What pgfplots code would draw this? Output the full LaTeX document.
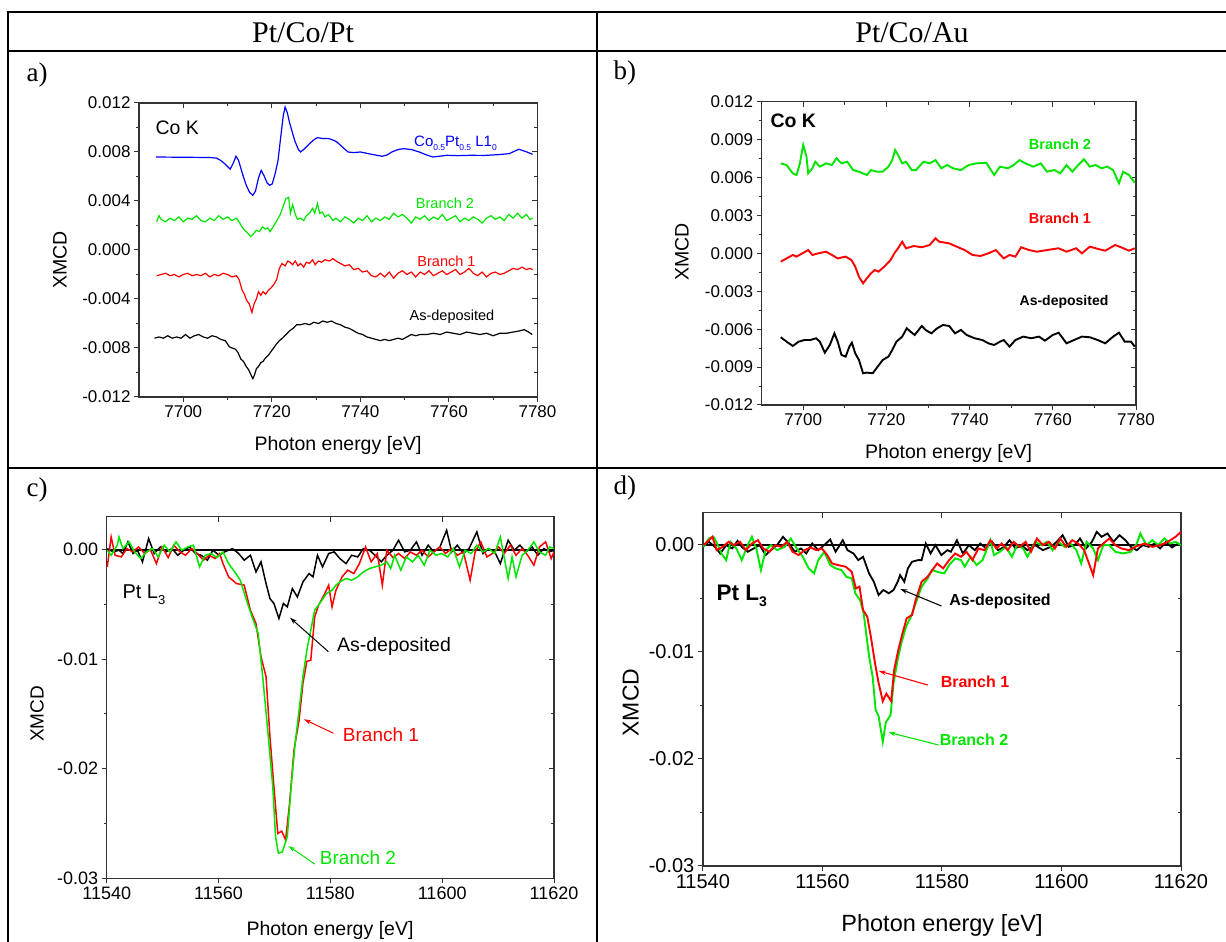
\documentclass[border=0pt]{standalone}
\usepackage{fontspec}
\setmainfont{Liberation Sans}
\newfontfamily\serif{Liberation Serif}
\usepackage{pgfplots}
\pgfplotsset{compat=1.18}
\usetikzlibrary{arrows.meta}

\definecolor{cgreen}{RGB}{0,230,0}
\definecolor{cred}{RGB}{255,0,0}
\definecolor{cblue}{RGB}{0,0,255}

\newcommand\fs[1]{\fontsize{#1}{#1}\selectfont}
\newcommand\lowsub[1]{\raisebox{-0.5ex}{\fs{8.5}#1}}

\pgfplotsset{
  base/.style={scale only axis, anchor=south west, clip=true,
    axis line style={line width=1.2pt, black!80},
    every tick/.style={line width=1pt, black!80},
    major tick length=5pt, minor tick length=3pt,
    scaled ticks=false,
    /pgf/number format/1000 sep={},
    /pgf/number format/assume math mode=true,
    no markers},
  front/.style={base, tick align=outside, xtick pos=left, ytick pos=left},
  back/.style={base, tick align=inside, xtick pos=right, ytick pos=right,
    xticklabels={,,}, yticklabels={,,}, axis line style={draw=none}},
  cok/.style={xmin=7690, xmax=7780, ymin=-12, ymax=12,
    xtick={7700,7720,...,7780}, minor x tick num=1, minor y tick num=1},
  ptl/.style={xmin=11540, xmax=11620, ymin=-30, ymax=3,
    xtick={11540,11560,...,11620}, minor x tick num=1,
    ytick={-30,-20,-10,0}, minor y tick num=1},
  pa/.style={at={(139pt,545pt)}, width=398.5pt, height=294pt, cok,
    ytick={-12,-8,...,12}},
  pb/.style={at={(761.6pt,537pt)}, width=374.4pt, height=303.3pt, cok,
    ytick={-12,-9,...,12}},
  pc/.style={at={(106.7pt,63.7pt)}, width=447.3pt, height=361.6pt, ptl},
  pd/.style={at={(702.9pt,76pt)}, width=478.1pt, height=353.3pt, ptl},
}

\begin{document}
\begin{tikzpicture}[x=1pt,y=1pt]
\path[use as bounding box, fill=white] (0,0) rectangle (1226,942);

% table frame
\draw[line width=2pt] (7,930) -- (1226,930);
\draw[line width=2pt] (7,891) -- (1226,891);
\draw[line width=2pt] (7,474) -- (1226,474);
\draw[line width=2pt] (7.5,930) -- (7.5,0);
\draw[line width=2pt] (597,930) -- (597,0);
\node[font=\serif\fs{30}] at (303,909) {Pt/Co/Pt};
\node[font=\serif\fs{30}] at (912,909) {Pt/Co/Au};
\node[font=\serif\fs{27}, anchor=west] at (23,867) {a)};
\node[font=\serif\fs{27}, anchor=west] at (610,869) {b)};
\node[font=\serif\fs{27}, anchor=west] at (23,452) {c)};
\node[font=\serif\fs{27}, anchor=west] at (610,454) {d)};

% ---------------- a) Pt/Co/Pt, Co K
\begin{axis}[back, pa]
\addplot[draw=none] coordinates {(7700,0)};
\end{axis}
\begin{axis}[front, pa, tick label style={font=\fs{17}},
  yticklabels={-0.012,-0.008,-0.004,0.000,0.004,0.008,0.012}]
\addplot[black, line width=1.2pt] coordinates {
(7693.5,-7.2) (7694.5,-7.1) (7695.5,-7.2) (7696.5,-7.0) (7697.5,-7.2) (7698.5,-7.1)
(7699.5,-7.2) (7700.5,-6.9) (7701.5,-7.2) (7702.5,-7.0) (7703.5,-6.9) (7704.5,-7.1)
(7705.5,-7.2) (7706.5,-7.0) (7707.5,-7.1) (7708.5,-7.3) (7709.5,-7.4) (7710.4,-7.9)
(7711,-8.0) (7711.8,-8.1) (7712.4,-8.4) (7713,-8.9) (7713.6,-9.1) (7714.2,-9.5)
(7714.8,-9.8) (7715.3,-10.2) (7715.7,-10.5) (7716.1,-10.2) (7716.5,-9.7) (7717,-9.5)
(7717.5,-9.2) (7718,-9.1) (7718.6,-8.8) (7719.2,-8.6) (7719.8,-8.3) (7720.4,-8.0)
(7721,-7.7) (7721.7,-7.4) (7722.4,-7.2) (7723.2,-6.9) (7724,-6.6) (7724.8,-6.4)
(7725.6,-6.1) (7726.5,-6.1) (7727.5,-6.0) (7728.5,-6.1) (7729.5,-5.9) (7730.5,-6.0)
(7731.5,-5.8) (7732.5,-5.9) (7733.5,-5.8) (7734.5,-6.0) (7735.5,-6.1) (7736.5,-6.3)
(7737.5,-6.4) (7738.5,-6.6) (7739.5,-6.8) (7740.5,-6.9) (7741.5,-7.1) (7742.5,-7.2)
(7743.5,-7.3) (7744.5,-7.4) (7745.5,-7.3) (7746.5,-7.4) (7747.5,-7.3) (7748.5,-7.2)
(7749.5,-7.3) (7750.5,-7.1) (7751.5,-6.9) (7752.5,-7.0) (7753.5,-6.9) (7755,-6.9)
(7756.5,-6.8) (7758,-6.9) (7759.5,-6.7) (7761,-6.8) (7762.5,-6.9) (7764,-6.7)
(7765.5,-6.8) (7767,-6.9) (7768.5,-6.8) (7770,-7.0) (7771.5,-6.8) (7773,-6.8)
(7774.5,-6.7) (7776,-6.6) (7777,-6.5) (7778,-6.7) (7778.8,-6.9)};
\addplot[cred, line width=1.2pt] coordinates {
(7694,-2.1) (7695,-2.0) (7696,-1.9) (7697,-2.1) (7698,-2.0) (7699,-2.2) (7700,-2.0)
(7701,-1.9) (7702,-2.1) (7703,-2.0) (7704,-2.1) (7705,-1.9) (7706,-2.2) (7707,-2.0)
(7708,-2.1) (7709,-1.9) (7710,-2.0) (7711,-2.2) (7712,-2.1) (7712.6,-2.4) (7713.3,-3.3)
(7713.8,-3.6) (7714.3,-4.1) (7714.9,-4.4) (7715.5,-5.1) (7716,-4.4) (7716.5,-4.0)
(7717,-3.4) (7717.5,-3.7) (7718,-3.4) (7718.6,-3.6) (7719.2,-3.3) (7719.8,-3.1)
(7720.5,-2.8) (7721.1,-2.4) (7721.7,-1.5) (7722.3,-1.1) (7723,-1.3) (7723.6,-0.9)
(7724.1,-1.0) (7724.7,-1.2) (7725.3,-0.9) (7725.9,-1.3) (7726.5,-1.1) (7727.2,-1.4)
(7727.8,-1.0) (7728.5,-1.1) (7729.2,-0.8) (7729.8,-1.2) (7730.5,-0.9) (7731.2,-1.0)
(7732,-0.8) (7733,-0.9) (7733.8,-0.7) (7734.5,-0.9) (7735.5,-1.1) (7736.5,-1.3)
(7737.5,-1.2) (7738.5,-1.6) (7739.5,-1.5) (7740.5,-1.8) (7741.5,-1.7) (7742.5,-2.1)
(7743.5,-2.2) (7744.5,-1.9) (7745.5,-2.2) (7746.5,-1.8) (7747.5,-2.3) (7748.5,-1.9)
(7749.5,-1.7) (7750.5,-2.0) (7751.5,-1.8) (7752.5,-2.2) (7753.5,-1.8) (7754.5,-2.0)
(7755.5,-1.7) (7756.5,-2.1) (7757.5,-1.9) (7758.5,-1.7) (7759.5,-2.0) (7760.5,-1.8)
(7761.5,-1.6) (7762.5,-2.0) (7763.5,-1.8) (7764.5,-1.5) (7765.5,-1.9) (7766.5,-2.1)
(7767.5,-1.8) (7768.5,-2.2) (7769.5,-1.9) (7770.5,-1.8) (7771.5,-2.0) (7772.5,-1.9)
(7773.5,-1.7) (7774.5,-1.5) (7775.5,-1.6) (7776.5,-1.4) (7777.5,-1.6) (7778.3,-1.5)
(7778.9,-1.6)};
\addplot[cgreen, line width=1.2pt] coordinates {
(7694,2.3) (7694.5,2.8) (7695,2.5) (7696,2.3) (7697,2.6) (7698,2.4) (7699,2.7)
(7700,2.3) (7701,2.6) (7702,2.5) (7703,2.8) (7704,2.4) (7705,2.3) (7706,2.6)
(7707,2.4) (7708,2.8) (7709,2.5) (7710,2.7) (7711,2.4) (7712,2.6) (7712.6,2.3)
(7713.2,1.9) (7713.9,1.6) (7714.5,1.4) (7715.2,1.1) (7715.8,1.3) (7716.5,1.6)
(7717.2,1.5) (7717.9,1.9) (7718.5,1.7) (7719.1,1.8) (7719.6,1.5) (7720.3,1.9)
(7721.0,2.3) (7721.9,2.9) (7722.5,3.5) (7723.2,4.2) (7723.8,4.3) (7724.2,3.0)
(7724.7,3.7) (7725.3,2.9) (7725.8,2.5) (7726.5,2.6) (7727.2,2.4) (7727.8,2.8)
(7728.5,3.0) (7729.2,3.4) (7729.7,3.0) (7730.3,3.8) (7730.8,3.0) (7731.4,3.1)
(7732,2.7) (7732.8,2.9) (7733.8,2.4) (7734.5,2.6) (7735.5,2.3) (7736.5,2.7)
(7737.5,2.5) (7738.5,2.2) (7739.5,2.6) (7740.5,2.4) (7741.5,2.8) (7742.5,2.3)
(7743.5,2.6) (7744.5,2.4) (7745.5,2.7) (7746.5,2.5) (7747.5,3.0) (7748.5,2.7)
(7749.5,2.9) (7750.5,2.6) (7751.5,2.2) (7752.5,2.7) (7753.5,2.5) (7754.5,2.8)
(7755.5,2.4) (7756.5,2.7) (7757.5,2.5) (7758.5,2.9) (7759.5,2.4) (7760.5,2.6)
(7761.5,2.8) (7762.5,2.3) (7763.5,2.6) (7764.5,2.4) (7765.5,2.7) (7766.5,2.5)
(7767.5,2.2) (7768.5,2.6) (7769.5,2.8) (7770.5,2.5) (7771.5,2.7) (7772.5,2.4)
(7773.5,2.9) (7774.5,2.6) (7775.5,3.0) (7776.5,2.6) (7777.5,2.9) (7778.3,2.5)
(7778.9,2.6)};
\addplot[cblue, line width=1.2pt] coordinates {
(7693.8,7.59) (7697,7.58) (7700,7.57) (7703,7.56) (7706,7.55) (7707.5,7.5)
(7708.5,7.3) (7709.5,7.0) (7710.6,6.6) (7711.3,7.1) (7711.9,7.65) (7712.5,7.3)
(7713.3,6.3) (7714.2,5.3) (7715,4.7) (7715.7,4.46) (7716.3,4.8) (7717,5.9)
(7717.6,6.5) (7718.2,6.1) (7718.9,5.5) (7719.5,5.28) (7720.1,5.4) (7720.8,6.3)
(7721.4,7.3) (7722,9.2) (7722.6,11.0) (7723.0,11.67) (7723.5,11.2) (7724,10.4)
(7724.5,9.77) (7725.2,8.9) (7726,8.2) (7726.5,8.0) (7727.5,8.3) (7728.5,8.68)
(7729.5,9.0) (7730.3,9.17) (7731.5,9.1) (7732.9,9.09) (7734,8.95) (7734.7,8.82)
(7735.8,8.45) (7737.2,8.0) (7738.5,7.95) (7740,8.0) (7742,7.85) (7744.9,7.65)
(7746,7.75) (7747.1,8.0) (7748.5,8.2) (7749.7,8.27) (7751.5,8.2) (7753.3,8.0)
(7755,7.75) (7756.4,7.59) (7758,7.66) (7759.5,7.73) (7762,7.70) (7764.8,7.73)
(7768,7.72) (7771,7.78) (7773.6,7.86) (7775,8.1) (7775.8,8.22) (7776.8,8.1)
(7777.6,8.0) (7778.9,7.81)};
\end{axis}
\node[font=\fs{19.5}, anchor=west] at (152,814) {Co K};
\node[font=\fs{15}, text=cblue, anchor=base west, inner sep=0pt] at (414,795.5)
  {Co\lowsub{0.5}Pt\lowsub{0.5} L1\lowsub{0}};
\node[font=\fs{14.5}, text=cgreen] at (445,739) {Branch 2};
\node[font=\fs{14.5}, text=cred] at (446.5,681) {Branch 1};
\node[font=\fs{14.5}] at (452,625) {As-deposited};
\node[font=\fs{19.5}] at (338,497) {Photon energy [eV]};
\node[font=\fs{19.5}, rotate=90] at (60,682) {XMCD};

% ---------------- b) Pt/Co/Au, Co K
\begin{axis}[back, pb]
\addplot[draw=none] coordinates {(7700,0)};
\end{axis}
\begin{axis}[front, pb, tick label style={font=\fs{17}},
  yticklabels={-0.012,-0.009,-0.006,-0.003,0.000,0.003,0.006,0.009,0.012}]
\addplot[black, line width=1.9pt] coordinates {
(7694.6,-6.64) (7696,-6.99) (7697.5,-7.33) (7698.9,-6.99) (7700.3,-6.86) (7701.7,-6.86)
(7703.1,-6.72) (7704,-6.99) (7705.2,-7.86) (7706.4,-7.25) (7707.5,-6.33) (7708.3,-6.99)
(7709.2,-8.04) (7710.2,-8.17) (7711.1,-7.38) (7711.7,-7.07) (7712.5,-7.91) (7713.4,-8.44)
(7714.4,-9.49) (7715.3,-9.44) (7716.7,-9.49) (7717.6,-9.10) (7719.1,-8.44) (7720.5,-8.17)
(7721.4,-7.65) (7722.4,-6.99) (7723.8,-6.59) (7724.9,-5.93) (7725.8,-6.20) (7726.8,-6.46)
(7728.5,-5.75) (7729.4,-6.06) (7730.8,-6.33) (7732.2,-5.93) (7733.6,-5.67) (7735.1,-5.75)
(7736.5,-6.33) (7737.9,-6.06) (7739.3,-6.46) (7741.2,-6.72) (7743.1,-6.86) (7744.5,-7.12)
(7745.9,-7.25) (7747.3,-6.99) (7748.2,-6.86) (7749.6,-7.38) (7751,-6.86) (7752.9,-6.59)
(7754.8,-6.72) (7756.7,-6.59) (7758.1,-6.91) (7760,-6.46) (7761.4,-6.28) (7763.3,-7.12)
(7765.1,-6.86) (7767,-6.59) (7768.9,-6.64) (7770.8,-6.86) (7772.6,-7.12) (7774.5,-6.59)
(7775.9,-6.28) (7777.3,-6.99) (7778.8,-6.99) (7779.7,-7.38)};
\addplot[cred, line width=1.9pt] coordinates {
(7694.6,-0.66) (7696,-0.40) (7697.5,-0.13) (7698.4,-0.26) (7699.8,0.0) (7701.2,0.26)
(7702.2,-0.13) (7703.6,0.0) (7705.5,0.13) (7706.9,-0.13) (7708.3,-0.40) (7710.2,-0.26)
(7711.6,-0.53) (7712.5,-1.05) (7713.4,-1.85) (7714.4,-2.37) (7715.3,-1.98) (7716.3,-1.58)
(7717.2,-1.32) (7718.1,-1.45) (7719.5,-1.05) (7721,-0.53) (7721.9,0) (7722.8,0.4)
(7723.8,0.92) (7724.7,0.4) (7726.6,0.58) (7728.5,0.48) (7730.4,0.66) (7731.8,1.19)
(7732.7,0.92) (7735.1,0.79) (7736.9,0.53) (7738.8,0.26) (7740.7,-0.13) (7742.6,-0.21)
(7744.5,0.0) (7746.3,0.26) (7748.2,-0.40) (7749.6,-0.13) (7751,-0.26) (7752.4,0.48)
(7754.3,0.26) (7756.2,0.13) (7758.6,0.26) (7761.4,0.40) (7763.3,0.13) (7765.6,0.40)
(7767,0.0) (7768.9,0.53) (7771.2,0.32) (7772.6,0.21) (7775,0.66) (7776.4,0.48)
(7778.3,0.21) (7779.7,0.40)};
\addplot[cgreen, line width=1.9pt] coordinates {
(7694.6,7.12) (7696,6.99) (7697.5,6.33) (7698.4,6.2) (7699.2,7.12) (7700,8.57)
(7700.8,7.65) (7701.2,6.33) (7702.2,6.73) (7702.9,7.25) (7704,6.86) (7705.5,7.12)
(7706.9,6.99) (7708,7.52) (7709.2,7.12) (7710.6,7.25) (7712,6.59) (7713.4,6.46)
(7715.3,6.2) (7716.3,6.59) (7717.7,6.46) (7719.1,6.46) (7720.5,6.86) (7721.4,7.38)
(7722.1,8.18) (7722.8,7.78) (7723.8,7.12) (7724.7,7.25) (7726.1,6.59) (7727.1,6.59)
(7728.9,7.25) (7730.4,7.12) (7731.8,7.38) (7733.2,6.73) (7734.6,6.99) (7736,6.73)
(7737.9,6.59) (7739.8,6.99) (7741.6,7.12) (7744,7.17) (7745.9,6.2) (7747.3,6.86)
(7749.2,6.73) (7750.6,6.99) (7752,7.38) (7753.4,7.12) (7755.3,6.86) (7757.1,7.12)
(7758.6,6.46) (7760.4,6.59) (7761.8,6.33) (7763.3,6.99) (7764.7,6.46) (7766.1,6.99)
(7767.5,7.44) (7768.9,6.86) (7770.3,6.99) (7771.7,6.73) (7773.1,6.86) (7774.5,6.59)
(7775.9,5.54) (7776.9,6.46) (7778.3,6.2) (7779.7,5.59)};
\end{axis}
\node[font=\bfseries\fs{19.5}, anchor=west] at (767,821) {Co K};
\node[font=\bfseries\fs{14.5}, text=cgreen] at (1060,798) {Branch 2};
\node[font=\bfseries\fs{14.5}, text=cred] at (1060,724) {Branch 1};
\node[font=\bfseries\fs{14}] at (1064,640) {As-deposited};
\node[font=\fs{19.5}] at (948.5,489) {Photon energy [eV]};
\node[font=\fs{19.5}, rotate=90] at (682,690) {XMCD};

% ---------------- c) Pt/Co/Pt, Pt L3
\begin{axis}[back, pc]
\addplot[draw=none] coordinates {(11560,0)};
\end{axis}
\begin{axis}[front, pc, tick label style={font=\fs{18}},
  yticklabels={-0.03,-0.02,-0.01,0.00}]
\addplot[black, line width=2pt] coordinates {(11540,0) (11620,0)};
\addplot[black, line width=1.5pt] coordinates {
(11540.1,0.09) (11541.2,-0.21) (11542.2,-0.06) (11542.9,-0.36) (11543.8,0.70) (11544.7,-0.36)
(11545.5,-0.06) (11546.4,-1.12) (11547.5,1.0) (11548.5,-0.36) (11549.6,0.24) (11550.6,-0.21)
(11551.7,0.09) (11552.7,-0.52) (11553.8,-0.06) (11554.8,0.24) (11555.9,-0.36) (11556.9,-0.52)
(11558,-0.97) (11559,-0.06) (11560.1,-0.52) (11561.1,-0.21) (11562.5,0.09) (11563.6,-0.36)
(11564.6,-0.97) (11565.7,-0.52) (11566.7,-2.04) (11567.6,-1.12) (11568.5,-3.10) (11569.2,-4.47)
(11569.9,-4.92) (11570.8,-6.29) (11571.6,-4.92) (11572.3,-5.23) (11573.2,-3.56) (11574.1,-4.32)
(11575.1,-2.95) (11576.2,-2.19) (11576.9,-2.49) (11577.7,-0.52) (11578.6,-1.58) (11579.7,-0.36)
(11580.7,-0.21) (11581.7,-0.82) (11582.8,-1.28) (11583.8,-0.52) (11584.9,-0.67) (11585.9,0.09)
(11587,-0.06) (11588,-0.52) (11589.1,-1.12) (11590.1,-0.52) (11591.2,-0.06) (11592.2,0.85)
(11593.3,-0.21) (11594.3,-0.06) (11595.4,0.70) (11596.4,-0.52) (11597.5,0.40) (11598.5,-0.21)
(11599.6,0.24) (11600.8,1.76) (11601.7,-0.21) (11602.7,0.40) (11603.8,-0.36) (11604.8,0.09)
(11606.2,1.61) (11607.3,-0.36) (11608.3,0.09) (11609.4,-0.21) (11610.4,-1.28) (11611.8,0.85)
(11612.9,-0.06) (11613.9,0.40) (11615,-0.21) (11616.1,0.24) (11617.1,-0.52) (11618.2,0.09)
(11619.2,-0.21) (11620,-0.06)};
\addplot[cred, line width=1.5pt] coordinates {
(11540.1,-1.58) (11540.8,1.15) (11541.5,-0.52) (11542.6,-0.67) (11543.6,0.09) (11544.7,-0.21)
(11545.7,0.24) (11546.8,-0.36) (11547.8,0) (11548.9,-1.28) (11549.9,0.24) (11551,-0.73)
(11552,0.4) (11553.1,-0.21) (11554.1,-0.52) (11555.2,0.09) (11556.2,-0.36) (11557.3,-0.97)
(11558.3,-0.52) (11559.4,-0.82) (11560.2,-0.36) (11560.8,-1.28) (11561.8,-2.49) (11563.2,-3.10)
(11564.6,-3.25) (11565.7,-5.53) (11566.7,-6.75) (11567.6,-9.79) (11568.5,-11.6) (11569.2,-17.1)
(11569.9,-21.6) (11570.6,-25.9) (11571.3,-25.7) (11572,-26.5) (11572.7,-23.2) (11573.5,-18.3)
(11574.4,-15.6) (11575.1,-12.2) (11575.8,-10.2) (11576.5,-10.1) (11577.2,-6.14) (11577.9,-5.08)
(11579,-4.01) (11579.7,-3.25) (11580.3,-5.23) (11581,-3.71) (11582.1,-2.49) (11583.1,-1.88)
(11584.2,-2.19) (11585.2,-1.28) (11586.3,0.24) (11587.3,-1.12) (11588.4,-0.36) (11589.3,-3.25)
(11590.1,-0.06) (11591.2,-0.73) (11592.2,-0.36) (11593.3,-0.82) (11594.3,-0.21) (11595.4,-0.52)
(11596.4,-0.06) (11597.5,-0.67) (11598.5,-0.21) (11599.6,0.24) (11600.6,-0.36) (11601.7,0.09)
(11602.7,-0.52) (11603.8,-0.21) (11605,-2.80) (11605.9,-0.21) (11606.9,0.70) (11608,-0.67)
(11609,-0.36) (11610.1,0.24) (11611.1,-0.36) (11612.2,0.40) (11613.2,-0.52) (11614.3,0.09)
(11615.3,-0.52) (11616.4,-1.43) (11617.4,0.24) (11618.5,0.70) (11619.5,-0.82) (11620,-0.21)};
\addplot[cgreen, line width=1.5pt] coordinates {
(11540.1,-0.06) (11540.8,-0.52) (11541.9,0.40) (11542.2,1.15) (11542.9,0.09) (11544,0.70)
(11545,-0.21) (11546.1,-0.82) (11547.1,-0.21) (11548.2,0.09) (11549.2,-0.67) (11550.3,0.40)
(11551.3,-0.21) (11552.4,0.70) (11553.4,-0.06) (11554.5,0.24) (11555.5,0.40) (11556.6,-1.58)
(11557.6,-0.52) (11558.7,-0.36) (11559.7,-0.73) (11560.8,-0.21) (11561.8,-1.28) (11562.9,-2.04)
(11563.9,-2.80) (11565,-4.62) (11566,-6.14) (11567.1,-7.66) (11567.9,-11.6) (11568.8,-16.5)
(11569.7,-21.6) (11570.2,-26.2) (11570.7,-27.7) (11571.4,-27.6) (11572.3,-26.2) (11573,-21.6)
(11573.7,-17.7) (11574.4,-14.7) (11575.1,-11.6) (11575.8,-9.18) (11576.5,-7.36) (11577.2,-5.53)
(11578.3,-4.77) (11579.3,-4.01) (11580.3,-3.71) (11581,-3.25) (11581.7,-2.95) (11582.8,-2.64)
(11583.8,-2.80) (11584.9,-2.49) (11585.9,-2.04) (11587,-1.73) (11588,-1.58) (11589.1,-1.43)
(11590.1,-1.12) (11590.8,-1.73) (11591.5,-0.52) (11592.6,-1.88) (11593.6,-0.67) (11594.7,-1.12)
(11595.7,-0.52) (11596.8,-1.43) (11597.8,-0.06) (11598.9,-0.52) (11599.9,-0.36) (11601,-0.67)
(11602,0.09) (11603.1,-1.58) (11604.1,-0.06) (11605.2,-0.36) (11606.2,0.40) (11607.3,-0.21)
(11608.3,0.09) (11609.4,-0.36) (11610.4,1.15) (11611.8,-2.64) (11612.5,-0.67) (11613.2,-2.49)
(11614.3,-0.52) (11615.3,-0.06) (11616.4,0.70) (11617.4,-0.21) (11618.5,-0.52) (11619.2,0.24)
(11620,0.09)};
\end{axis}
\node[font=\fs{20}, anchor=west] at (119,347) {Pt L\raisebox{-0.55ex}{\fs{13}3}};
\node[font=\fs{19.5}] at (394,295.3) {As-deposited};
\node[font=\fs{19}, text=cred] at (381,207) {Branch 1};
\node[font=\fs{19}, text=cgreen] at (358,84.3) {Branch 2};
\draw[black, line width=1pt, -{Stealth[length=7pt,width=4.5pt]}] (328.4,290.3) -- (290,324.3);
\draw[cred, line width=1pt, -{Stealth[length=7pt,width=4.5pt]}] (333.5,208.7) -- (304,222.7);
\draw[cgreen, line width=1pt, -{Stealth[length=7pt,width=4.5pt]}] (314.7,78) -- (288.5,96);
\node[font=\fs{19.5}] at (330,11.3) {Photon energy [eV]};
\node[font=\fs{19}, rotate=90] at (37,228) {XMCD};

% ---------------- d) Pt/Co/Au, Pt L3
\begin{axis}[back, pd]
\addplot[draw=none] coordinates {(11560,0)};
\end{axis}
\begin{axis}[front, pd, tick label style={font=\fs{20}},
  yticklabels={-0.03,-0.02,-0.01,0.00}]
\addplot[black, line width=2pt] coordinates {(11540,0) (11620,0)};
\addplot[black, line width=1.8pt] coordinates {
(11540.1,-0.12) (11541,0.28) (11542,-0.19) (11542.9,-0.81) (11543.9,-0.03) (11544.9,-0.34)
(11545.8,0.37) (11546.5,-0.19) (11547.5,-0.65) (11548.5,-0.34) (11549.5,-0.03) (11550.5,-0.96)
(11551.4,-0.5) (11552.4,-0.03) (11553.4,0.75) (11554.4,0.12) (11555.4,-0.65) (11556.4,-0.34)
(11557.3,-0.81) (11558.3,0.12) (11559.3,-0.5) (11560.3,-0.03) (11561.3,0.5) (11562.2,-0.65)
(11563.4,0.43) (11564.2,-0.5) (11565.2,-0.81) (11566,-1.43) (11566.8,-1.12) (11567.8,-2.67)
(11568.6,-3.45) (11569.4,-4.69) (11570.2,-4.22) (11571.1,-4.53) (11571.9,-4.22) (11572.6,-3.45)
(11573,-2.83) (11573.7,-3.45) (11574.3,-2.20) (11575,-1.58) (11576,-1.43) (11576.6,-1.43)
(11577.3,0.12) (11578.1,-0.81) (11578.9,-0.03) (11579.9,-0.96) (11580.9,-0.5) (11581.5,-0.65)
(11582.5,0.43) (11583.5,-0.81) (11584.5,-0.03) (11585.5,-0.5) (11586.4,0.12) (11587.4,-0.34)
(11588.4,0.28) (11589.4,-0.5) (11590.4,-0.19) (11591.3,0.43) (11592.3,-0.34) (11593.3,-0.03)
(11594.3,-0.5) (11595.6,-0.03) (11596.9,-0.5) (11598.2,-0.19) (11599.2,0.28) (11600.2,0.90)
(11601.2,-0.19) (11602.2,-0.03) (11603.1,0.59) (11604.1,-0.34) (11605.1,0.28) (11605.9,1.21)
(11606.7,0.75) (11607.7,1.06) (11608.7,0.28) (11609.7,0.90) (11610.7,0.43) (11611.6,-0.19)
(11612.6,-0.5) (11613.6,-0.03) (11614.6,-0.19) (11615.6,0.12) (11616.5,-0.34) (11617.5,0.28)
(11618.5,-0.25) (11619.5,0.12) (11620,-0.03)};
\addplot[cgreen, line width=1.9pt] coordinates {
(11540.1,-0.19) (11541,0.59) (11541.8,0.75) (11542.5,-0.03) (11543.1,-0.81) (11543.9,-1.43)
(11544.6,0.28) (11545.6,-0.34) (11546.5,-1.43) (11547.5,-0.03) (11548.2,0.75) (11549,-0.5)
(11549.7,-2.36) (11550.5,-0.5) (11551.4,-0.03) (11552.4,-0.5) (11553.7,-0.19) (11554.7,0.59)
(11555.7,-0.34) (11556.7,-1.12) (11557.7,-2.20) (11558.6,-2.67) (11559.3,-1.43) (11560.3,-0.65)
(11561.3,-1.89) (11562.2,-2.20) (11563.2,-2.36) (11564,-2.98) (11564.9,-3.14) (11565.5,-4.53)
(11566.3,-5.16) (11566.9,-6.40) (11567.8,-10.4) (11568.4,-12.3) (11568.9,-15.4) (11569.4,-16.0)
(11570.1,-18.4) (11570.6,-16.6) (11571.4,-15.9) (11571.9,-12.9) (11572.6,-10.7) (11573.2,-9.19)
(11574,-7.64) (11574.8,-6.71) (11575.6,-5.47) (11576.6,-3.91) (11577.6,-3.14) (11578.3,-2.36)
(11579.2,-2.52) (11580.4,-2.67) (11581.2,-1.89) (11582.2,-1.27) (11583.2,-1.43) (11583.8,-2.05)
(11584.8,-1.12) (11585.8,-1.89) (11586.8,-1.43) (11588.1,0.43) (11588.7,-0.96) (11589.7,-0.65)
(11590.7,-0.19) (11591.7,-1.12) (11592.6,-0.03) (11593.6,-0.34) (11594.3,-1.12) (11595.6,0.28)
(11596.6,-0.03) (11597.6,0.28) (11598.5,-0.5) (11599.5,0.28) (11600.5,-0.19) (11601.5,0.12)
(11602.5,-0.5) (11603.3,-1.74) (11604.2,0.28) (11605.3,-0.34) (11606.1,-1.43) (11607,-0.03)
(11608,-0.03) (11609,-0.65) (11610.3,-0.81) (11611.6,-0.65) (11612.6,0.12) (11613.2,1.06)
(11614.2,-0.03) (11615.2,0.43) (11616.2,-0.03) (11617.2,0.59) (11618.2,0.12) (11619.1,0.28)
(11620,-0.03)};
\addplot[cred, line width=1.9pt] coordinates {
(11540.1,-0.03) (11541,0.43) (11541.6,0.75) (11542.3,-0.5) (11543.3,-0.19) (11544.3,0.28)
(11545.2,-0.03) (11546.2,0.28) (11547.2,-0.5) (11548.2,0.12) (11549.2,0.43) (11550.1,-0.34)
(11551.1,-0.65) (11552.1,-0.03) (11553.1,-0.19) (11554.1,0.28) (11555,-0.65) (11556,-0.96)
(11557,-0.5) (11558,-0.25) (11559,-0.5) (11559.9,-0.34) (11560.8,-0.96) (11561.6,-1.74)
(11562.6,-1.89) (11563.9,-2.05) (11564.9,-2.52) (11565.6,-4.07) (11566.2,-3.91) (11566.8,-6.09)
(11567.5,-6.71) (11568.1,-8.57) (11568.8,-11.06) (11569.4,-12.9) (11570.1,-14.6) (11570.7,-13.9)
(11571.5,-14.6) (11572,-11.7) (11572.7,-9.81) (11573.4,-8.26) (11574.1,-6.86) (11575,-6.55)
(11575.6,-5.16) (11576.6,-3.45) (11577.6,-2.98) (11578.6,-2.20) (11579.2,-1.74) (11580.2,-2.20)
(11581.2,-1.43) (11582.2,-0.81) (11583.2,-1.12) (11584.1,-0.65) (11585.1,-1.43) (11586.1,-0.34)
(11587.1,-0.5) (11588.1,0.43) (11589.1,-0.34) (11590,0.12) (11591,-0.5) (11592,0.28)
(11593,-0.19) (11594,0.28) (11594.9,-0.65) (11595.9,0.59) (11596.9,-0.03) (11597.9,0.28)
(11598.9,-0.34) (11599.8,0.59) (11600.8,-0.19) (11601.8,0.43) (11602.8,0.12) (11603.8,-0.5)
(11604.6,-1.74) (11605.3,-2.83) (11606.1,-0.34) (11607,0.12) (11608,0.59) (11609,-0.03)
(11610,-0.34) (11611.3,-0.5) (11612.6,-0.12) (11613.9,0.12) (11615.2,-0.19) (11616.5,-0.03)
(11617.8,0.28) (11619.1,0.75) (11620,1.21)};
\end{axis}
\node[font=\bfseries\fs{22.5}, anchor=west] at (713,346) {Pt L\raisebox{-0.55ex}{\fs{14}3}};
\node[font=\bfseries\fs{16}] at (1000,341) {As-deposited};
\node[font=\bfseries\fs{16}, text=cred] at (975,260.3) {Branch 1};
\node[font=\bfseries\fs{16}, text=cgreen] at (974,202.7) {Branch 2};
\draw[black, line width=1.1pt, -{Stealth[length=7pt,width=4.5pt]}] (941.4,336) -- (900.3,353);
\draw[cred, line width=1.1pt, -{Stealth[length=7pt,width=4.5pt]}] (927.7,257) -- (878.8,271);
\draw[cgreen, line width=1.1pt, -{Stealth[length=7pt,width=4.5pt]}] (938.6,197) -- (888.6,209.7);
\node[font=\fs{23.5}] at (942,17) {Photon energy [eV]};
\node[font=\fs{23}, rotate=90] at (630.6,239.4) {XMCD};
\end{tikzpicture}
\end{document}
